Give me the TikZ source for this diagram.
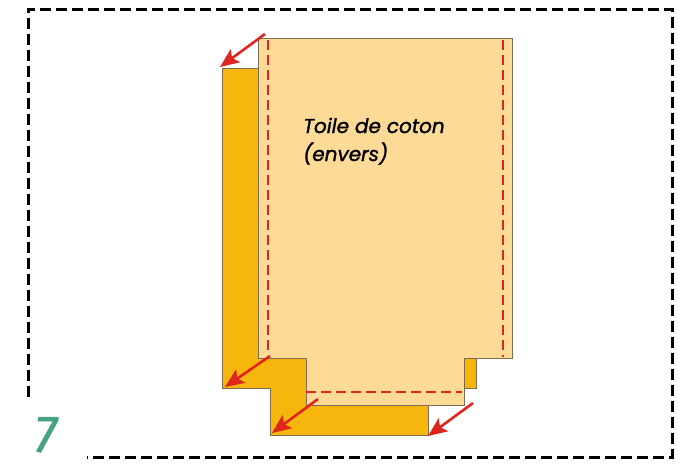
\documentclass[tikz,border=0pt]{standalone}
\usepackage{xcolor}
\usepackage{fontspec}
\usepackage{tikz}
\usetikzlibrary{arrows.meta}
\newfontfamily\labelfont{Poppins}[ItalicFeatures={FakeBold=1.5}]
\newfontfamily\stepfont{Fira Sans}[ItalicFeatures={FakeBold=1}]
\definecolor{fabric}{HTML}{FDDB97}
\definecolor{lining}{HTML}{F6B60B}
\definecolor{seam}{HTML}{E0251F}
\definecolor{outline}{HTML}{7D6B52}
\definecolor{steptint}{HTML}{45A285}

\begin{document}
\begin{tikzpicture}[x=1pt, y=-1pt]

    \useasboundingbox (0,0) rectangle (700,467);

    % 
    \draw[line width=3pt, dash pattern=on 11pt off 5pt] (28,397) -- (28,9) -- (672,9) -- (672,457) -- (87,457);

    % 
    \draw[fill=lining, draw=outline, line width=0.8pt] (222,68) -- (476,68) -- (476,388) -- (428,388) -- (428,435) -- (270,435) -- (270,388) -- (222,388) -- cycle;
    \draw[fill=fabric, draw=outline, line width=0.8pt] (258,38) -- (512,38) -- (512,358) -- (464,358) -- (464,405) -- (306,405) -- (306,358) -- (258,358) -- cycle;

    % 
    \draw[seam, line width=2.4pt, dash pattern=on 10pt off 5pt] (268,40) -- (268,355);
    \draw[seam, line width=2.4pt, dash pattern=on 10pt off 5pt] (306,392) -- (462,392);
    \draw[seam, line width=2.4pt, dash pattern=on 10pt off 5pt] (503,40) -- (503,357);

    % 
    \node[anchor=base west, align=left, inner sep=0pt, font=\labelfont\itshape\fontsize{20}{28}\selectfont] (title) at (303,161) {Toile de coton\\(envers)};
    \node[anchor=base west, inner sep=0pt, text=steptint, font=\stepfont\itshape\fontsize{52}{52}\selectfont] (num) at (34,452) {7};

    % 
    \coordinate (a1) at (265,34);  \coordinate (b1) at (220,67);
    \coordinate (a2) at (270,356); \coordinate (b2) at (225,387);
    \coordinate (a3) at (318,399); \coordinate (b3) at (272,433);
    \coordinate (a4) at (473,403); \coordinate (b4) at (428,436);

    % 
    \draw[-{Stealth[length=19pt, width=16pt, inset=4pt]}, seam, line width=2.6pt] (a1) -- (b1);
    \draw[-{Stealth[length=19pt, width=16pt, inset=4pt]}, seam, line width=2.6pt] (a2) -- (b2);
    \draw[-{Stealth[length=19pt, width=16pt, inset=4pt]}, seam, line width=2.6pt] (a3) -- (b3);
    \draw[-{Stealth[length=19pt, width=16pt, inset=4pt]}, seam, line width=2.6pt] (a4) -- (b4);

\end{tikzpicture}
\end{document}
